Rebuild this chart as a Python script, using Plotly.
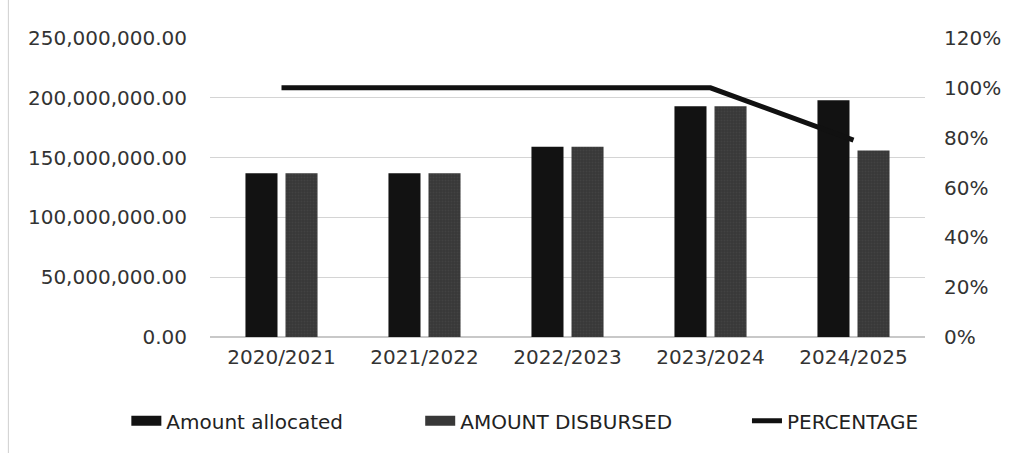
import plotly.graph_objects as go

years = ["2020/2021", "2021/2022", "2022/2023", "2023/2024", "2024/2025"]
allocated = [137000000, 137000000, 159000000, 193000000, 198000000]
disbursed = [137000000, 137000000, 159000000, 193000000, 156000000]
percentage = [1.0, 1.0, 1.0, 1.0, 0.79]

font = "DejaVu Sans, sans-serif"
alloc_color = "#121212"
disb_color = "#383838"

fig = go.Figure()
fig.add_trace(go.Bar(x=years, y=allocated, name="Amount allocated", showlegend=False,
                     marker=dict(color=alloc_color, line=dict(width=0))))
fig.add_trace(go.Bar(x=years, y=disbursed, name="AMOUNT DISBURSED", showlegend=False,
                     marker=dict(color=disb_color, line=dict(width=0),
                                 pattern=dict(shape=".", fgcolor="#4c4c4c", size=3, solidity=0.3))))
fig.add_trace(go.Scatter(x=years, y=percentage, name="PERCENTAGE", yaxis="y2", showlegend=False,
                         mode="lines", line=dict(color="#111111", width=5)))

# legend entries (wide swatches like the original)
fig.add_trace(go.Scatter(x=[None], y=[None], name="Amount allocated", mode="lines",
                         line=dict(color=alloc_color, width=14), legend="legend"))
fig.add_trace(go.Scatter(x=[None], y=[None], name="AMOUNT DISBURSED", mode="lines",
                         line=dict(color=disb_color, width=14), legend="legend2"))
fig.add_trace(go.Scatter(x=[None], y=[None], name="PERCENTAGE", mode="lines",
                         line=dict(color="#111111", width=5), legend="legend3"))

leg_common = dict(orientation="h", xanchor="left", y=-0.28, yanchor="middle",
                  font=dict(size=20, color="#222222"), bgcolor="rgba(0,0,0,0)")

fig.update_layout(
    width=1013, height=453,
    margin=dict(l=210, r=82, t=38, b=116),
    paper_bgcolor="white", plot_bgcolor="white",
    barmode="group", bargap=0.44, bargroupgap=0.2,
    font=dict(family=font, size=20, color="#333333"),
    showlegend=True,
    legend=dict(x=-0.117, **leg_common),
    legend2=dict(x=0.294, **leg_common),
    legend3=dict(x=0.751, **leg_common),
    xaxis=dict(showgrid=False, showline=False, ticks="", tickfont=dict(size=20),
               ticklabelstandoff=6),
    yaxis=dict(range=[0, 250000000], tickvals=[0, 50000000, 100000000, 150000000, 200000000, 250000000],
               tickformat=",.2f", showgrid=True, gridcolor="#d4d4d4", gridwidth=1,
               zeroline=True, zerolinecolor="#c8c8c8", showline=False, ticks="",
               ticklabelstandoff=22, tickfont=dict(size=20)),
    yaxis2=dict(range=[0, 1.2], overlaying="y", side="right", tickformat=".0%",
                tickvals=[0, 0.2, 0.4, 0.6, 0.8, 1.0, 1.2], showgrid=False, zeroline=False,
                showline=False, ticks="", ticklabelstandoff=18, tickfont=dict(size=20)),
    shapes=[dict(type="line", xref="paper", yref="paper", x0=-0.282, x1=-0.282, y0=-0.4, y1=1.15,
                 line=dict(color="#cfcfcf", width=1))],
)

fig.write_html("out.html")
